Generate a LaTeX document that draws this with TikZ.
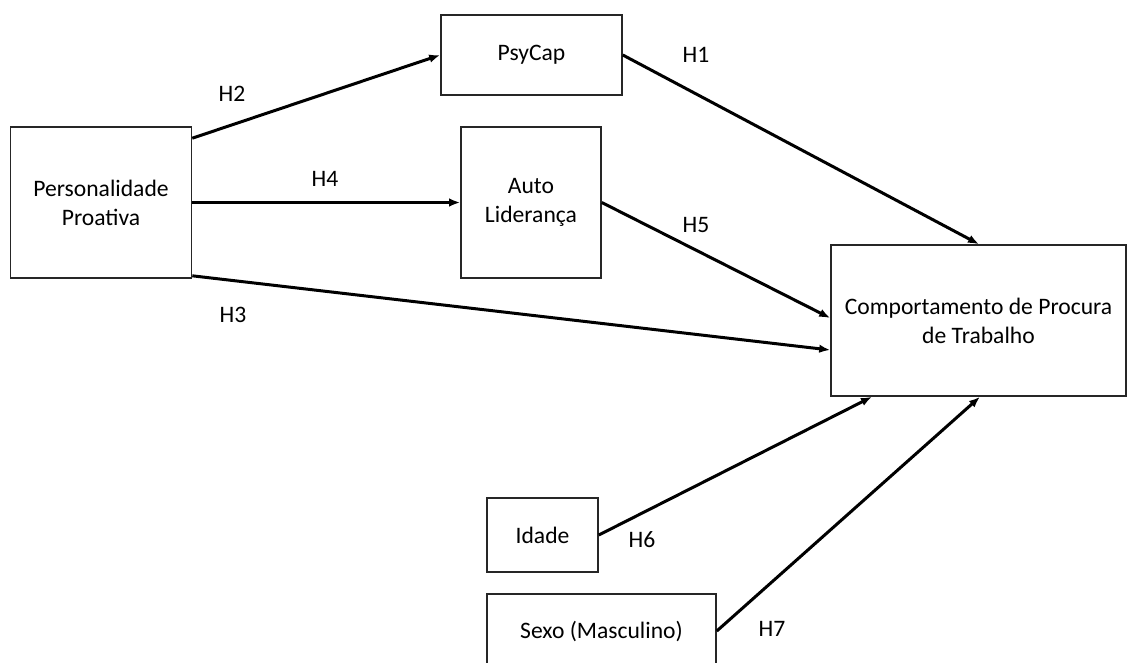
\documentclass[tikz,border=0pt]{standalone}
\usepackage{fontspec}
\setmainfont{Carlito}
\usetikzlibrary{arrows.meta}

\begin{document}
\begin{tikzpicture}[x=1pt,y=-1pt,>={Latex[length=11pt,width=8.5pt]},
        font=\fontsize{23.6}{29}\selectfont,
        var/.style={draw=black!85,line width=1.6pt,align=center,inner sep=0pt},
        path/.style={->,line width=3pt},
        hyp/.style={inner sep=1pt}]
            % page size
            \useasboundingbox (0,0) rectangle (1127,662);

            % draw the variables
            \node[var,minimum width=181pt,minimum height=151pt] (pro) at (101,202.5) {Personalidade\\Proativa};
            \node[var,minimum width=181pt,minimum height=80pt] (psy) at (531.5,55) {PsyCap};
            \node[var,minimum width=140pt,minimum height=151pt] (auto) at (531,202.5) {Auto\\Liderança};
            \node[var,minimum width=295pt,minimum height=151pt] (cpt) at (978.5,320.5) {Comportamento de Procura\\de Trabalho};
            \node[var,minimum width=111pt,minimum height=74pt] (ida) at (542.5,535) {Idade};
            \node[var,minimum width=229pt,minimum height=74pt] (sex) at (601.5,631) {Sexo (Masculino)};

            % draw the paths
            \draw[path] ([yshift=-12pt]pro.north east) -- (psy.west);
            \draw[path] (pro.east) -- (auto.west);
            \draw[path] ([yshift=3pt]pro.south east) -- ([yshift=-29.5pt]cpt.west);
            \draw[path] (psy.east) -- ([xshift=0.5pt]cpt.north);
            \draw[path] (auto.east) -- ([yshift=2.5pt]cpt.west);
            \draw[path] (ida.east) -- ([xshift=-106.5pt]cpt.south);
            \draw[path] (sex.east) -- ([xshift=1.5pt]cpt.south);

            % hypotheses
            \node[hyp] (h1) at (696,55) {H1};
            \node[hyp] (h2) at (232,94) {H2};
            \node[hyp] (h3) at (233,315) {H3};
            \node[hyp] (h4) at (325,179) {H4};
            \node[hyp] (h5) at (696,225) {H5};
            \node[hyp] (h6) at (642,540) {H6};
            \node[hyp] (h7) at (772,629) {H7};
        \end{tikzpicture}
\end{document}
